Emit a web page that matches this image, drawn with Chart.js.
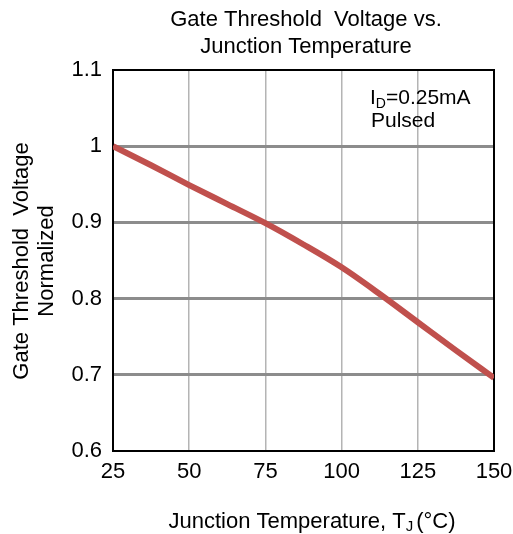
<!DOCTYPE html>
<html>
<head>
<meta charset="utf-8">
<script src="https://cdn.jsdelivr.net/npm/chart.js@4.4.1/dist/chart.umd.min.js"></script>
<style>
  html, body { margin: 0; padding: 0; background: #fff; }
  #wrap { width: 513px; height: 534px; }
</style>
</head>
<body>
<div id="wrap"><canvas id="myChart" width="513" height="534"></canvas></div>
<script>
// data
const temps = [25, 37.5, 50, 62.5, 75, 87.5, 100, 112.5, 125, 137.5, 150];
const vthNorm = [1.0, 0.975, 0.949, 0.924, 0.899, 0.871, 0.841, 0.806, 0.769, 0.732, 0.696];
const xTicks = [25, 50, 75, 100, 125, 150];
const yTicks = [0.6, 0.7, 0.8, 0.9, 1, 1.1];

const titleLines = ['Gate Threshold  Voltage vs.', 'Junction Temperature'];
const yTitleLines = ['Gate Threshold  Voltage', 'Normalized'];

const FONT = 'Liberation Sans, Arial, sans-serif';

// titles, frame and the I_D note
const textPlugin = {
  id: 'texts',
  beforeDatasetsDraw(chart) {
    const ctx = chart.ctx, a = chart.chartArea;
    ctx.save();
    ctx.strokeStyle = '#000';
    ctx.lineWidth = 2;
    ctx.strokeRect(a.left, a.top, a.right - a.left, a.bottom - a.top);
    ctx.restore();
  },
  afterDraw(chart) {
    const ctx = chart.ctx;
    ctx.save();
    ctx.fillStyle = '#000';
    ctx.textBaseline = 'alphabetic';

    // chart title
    ctx.font = '22px ' + FONT;
    ctx.textAlign = 'center';
    ctx.fillText(titleLines[0], 306, 26);
    ctx.fillText(titleLines[1], 306, 53);

    // y title
    ctx.save();
    ctx.translate(0, 261);
    ctx.rotate(-Math.PI / 2);
    ctx.fillText(yTitleLines[0], 0, 28);
    ctx.fillText(yTitleLines[1], 0, 53);
    ctx.restore();

    // x title with subscript J
    ctx.textAlign = 'left';
    const main = 'Junction Temperature, T';
    const sub = 'J';
    const tail = '(\u00B0C)';
    ctx.font = '22px ' + FONT;
    const w1 = ctx.measureText(main).width;
    ctx.font = '15px ' + FONT;
    const w2 = ctx.measureText(sub).width;
    ctx.font = '22px ' + FONT;
    const w3 = ctx.measureText(tail).width;
    let x = 312 - (w1 + w2 + 3 + w3) / 2;
    const y = 528;
    ctx.fillText(main, x, y);
    x += w1;
    ctx.font = '15px ' + FONT;
    ctx.fillText(sub, x, y + 3);
    x += w2 + 3;
    ctx.font = '22px ' + FONT;
    ctx.fillText(tail, x, y);

    // note
    let nx = 370;
    ctx.font = '21px ' + FONT;
    ctx.fillText('I', nx, 104);
    nx += ctx.measureText('I').width;
    ctx.font = '14px ' + FONT;
    ctx.fillText('D', nx, 108);
    nx += ctx.measureText('D').width;
    ctx.font = '21px ' + FONT;
    ctx.fillText('=0.25mA', nx, 104);
    ctx.fillText('Pulsed', 371, 127);
    ctx.restore();
  }
};

const config = {
  type: 'line',
  data: {
    datasets: [{
      label: 'Vth',
      data: temps.map((t, i) => ({ x: t, y: vthNorm[i] })),
      borderColor: 'rgb(192, 80, 77)',
      borderWidth: 6,
      pointRadius: 0,
      tension: 0.4,
      cubicInterpolationMode: 'monotone',
      fill: false
    }]
  },
  options: {
    responsive: false,
    animation: false,
    layout: { padding: { top: 70, right: 19, left: 0, bottom: 0 } },
    plugins: {
      legend: { display: false },
      title: { display: false },
      tooltip: { enabled: false }
    },
    scales: {
      x: {
        type: 'linear',
        min: 25,
        max: 150,
        afterBuildTicks: s => { s.ticks = xTicks.map(v => ({ value: v })); },
        afterFit: s => { s.height = 83; s.paddingLeft = 0; s.paddingRight = 0; },
        border: { display: false },
        grid: {
          drawTicks: false,
          color: c => (c.tick.value === 25 || c.tick.value === 150) ? 'rgba(0,0,0,0)' : '#b4b4b4',
          lineWidth: 1.5
        },
        ticks: {
          padding: 8,
          color: '#000',
          font: { family: FONT, size: 22 },
          maxRotation: 0
        }
      },
      y: {
        type: 'linear',
        min: 0.6,
        max: 1.1,
        afterBuildTicks: s => { s.ticks = yTicks.map(v => ({ value: v })); },
        afterFit: s => { s.width = 113; s.paddingTop = 0; s.paddingBottom = 0; },
        border: { display: false },
        grid: {
          drawTicks: false,
          color: c => (c.tick.value <= 0.61 || c.tick.value >= 1.09) ? 'rgba(0,0,0,0)' : '#8c8c8c',
          lineWidth: 3
        },
        ticks: {
          padding: 11,
          color: '#000',
          font: { family: FONT, size: 22 },
          callback: v => String(Math.round(v * 10) / 10)
        }
      }
    }
  },
  plugins: [textPlugin]
};

var myChart = new Chart(document.getElementById('myChart'), config);
</script>
</body>
</html>
